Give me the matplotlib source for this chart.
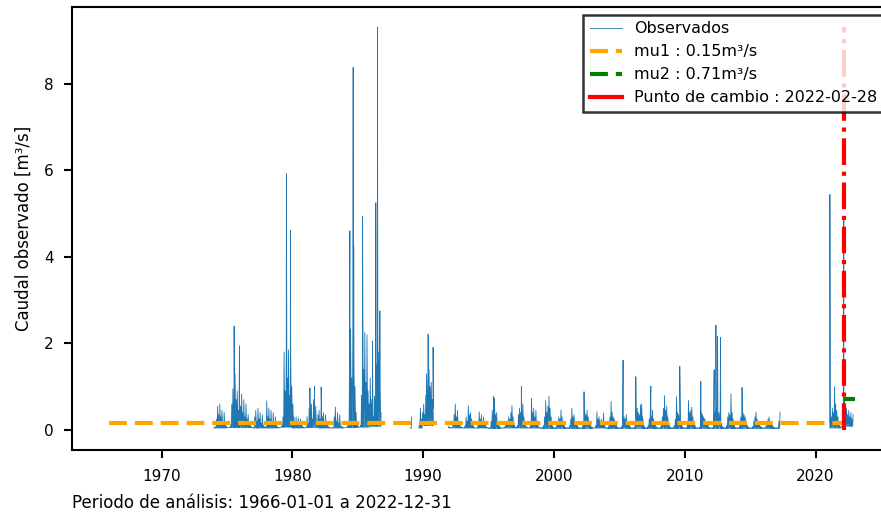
import numpy as np
import pandas as pd
import matplotlib
matplotlib.use("Agg")
import matplotlib.pyplot as plt
from matplotlib.lines import Line2D

nan = np.nan

# --- datos (m3/s) ---
# máximos mensuales aproximados por tramo; mínimos aproximados por año

# tramo 1: 1974-01 .. 1986-10
SEG1_START = "1974-01"
qmax_seg1 = [
    0.07, 0.06, 0.25, 0.55, 0.35, 0.60, 0.30, 0.45, 0.20, 0.40, 0.15, 0.08,  # 1974
    0.06, 0.05, 0.06, 0.12, 0.60, 0.95, 0.50, 1.29, 0.70, 0.90, 0.45, 0.80,  # 1975
    0.55, 0.83, 0.40, 0.70, 0.30, 0.60, 0.25, 0.35, 0.15, 0.10, 0.07, 0.06,  # 1976
    0.05, 0.30, 0.45, 0.20, 0.50, 0.25, 0.40, 0.15, 0.35, 0.10, 0.08, 0.06,  # 1977
    0.67, 0.30, 0.50, 0.25, 0.45, 0.20, 0.40, 0.15, 0.30, 0.10, 0.07, 0.05,  # 1978
    0.05, 0.06, 0.10, 0.30, 1.80, 0.90, 1.98, 1.20, 1.85, 0.80, 1.90, 1.00,  # 1979
    0.60, 0.30, 0.15, 0.30, 0.20, 0.28, 0.15, 0.25, 0.12, 0.08, 0.06, 0.05,  # 1980
    0.05, 0.30, 0.15, 0.50, 0.35, 0.60, 0.25, 0.70, 0.40, 0.55, 0.20, 0.35,  # 1981
    0.45, 0.25, 0.60, 0.30, 0.40, 0.20, 0.35, 0.15, 0.10, 0.07, 0.05, 0.05,  # 1982
    0.05, 0.06, 0.30, 0.53, 0.20, 0.40, 0.15, 0.35, 0.10, 0.08, 0.06, 0.05,  # 1983
    0.05, 0.05, 0.08, 0.15, 1.50, 2.33, 1.20, 2.20, 1.80, 1.00, 0.40, 0.15,  # 1984
    0.08, 0.06, 0.10, 0.80, 2.37, 1.40, 2.25, 1.10, 2.20, 0.90, 0.60, 1.20,  # 1985
    0.70, 0.50, 0.30, 0.78, 2.50, 1.50, 2.20, 1.80, 1.00, 0.40,              # 1986
]
qmin_seg1 = [0.04, 0.05, 0.05, 0.04, 0.04, 0.06, 0.04, 0.05, 0.04, 0.04,
             0.05, 0.06, 0.08]  # 1974..1986

# tramo 2: 1989-01 .. 1990-10
SEG2_START = "1989-01"
qmax_seg2 = [
    0.05, 0.30, nan, nan, nan, nan, nan, nan, 0.10, 0.50, 0.25, 0.40,        # 1989
    0.60, 0.35, 0.80, 1.00, 1.20, 1.40, 1.00, 1.10, 0.70, 0.50,              # 1990
]
qmin_seg2 = [0.04, 0.10]  # 1989, 1990

# tramo 3: 1991-12 .. 2017-04
SEG3_START = "1991-12"
qmax_seg3 = [
    0.08,                                                                    # 1991
    0.06, 0.05, 0.05, 0.20, 0.35, 0.60, 0.30, 0.45, 0.20, 0.15, 0.08, 0.06,  # 1992
    0.05, 0.05, 0.10, 0.30, 0.20, 0.56, 0.35, 0.40, 0.25, 0.15, 0.07, 0.05,  # 1993
    0.05, 0.05, 0.15, 0.42, 0.25, 0.35, 0.20, 0.30, 0.15, 0.10, 0.06, 0.05,  # 1994
    0.05, 0.05, 0.20, 0.45, 0.30, 0.73, 0.35, 0.40, 0.20, 0.12, 0.07, 0.05,  # 1995
    0.05, 0.05, 0.06, 0.10, 0.20, 0.15, 0.30, 0.25, 0.40, 0.56, 0.30, 0.15,  # 1996
    0.07, 0.06, 0.10, 0.35, 0.50, 0.40, 0.45, 0.60, 0.30, 0.20, 0.08, 0.06,  # 1997
    0.05, 0.05, 0.10, 0.73, 0.40, 0.50, 0.30, 0.45, 0.20, 0.10, 0.06, 0.05,  # 1998
    0.05, 0.05, 0.10, 0.30, 0.68, 0.40, 0.55, 0.78, 0.50, 0.30, 0.10, 0.06,  # 1999
    0.05, 0.05, 0.10, 0.20, 0.30, 0.25, 0.46, 0.30, 0.20, 0.10, 0.06, 0.05,  # 2000
    0.05, 0.05, 0.10, 0.25, 0.50, 0.30, 0.35, 0.20, 0.15, 0.10, 0.06, 0.05,  # 2001
    0.05, 0.05, 0.10, 0.30, 0.40, 0.35, 0.45, 0.30, 0.20, 0.10, 0.07, 0.05,  # 2002
    0.05, 0.05, 0.10, 0.42, 0.25, 0.30, 0.20, 0.25, 0.15, 0.39, 0.10, 0.06,  # 2003
    0.05, 0.05, 0.10, 0.30, 0.66, 0.40, 0.30, 0.25, 0.15, 0.10, 0.06, 0.05,  # 2004
    0.05, 0.05, 0.10, 0.20, 0.30, 0.25, 0.35, 0.20, 0.15, 0.10, 0.06, 0.05,  # 2005
    0.05, 0.05, 0.10, 0.30, 0.50, 0.40, 0.35, 0.58, 0.60, 0.30, 0.10, 0.06,  # 2006
    0.05, 0.05, 0.10, 0.25, 0.40, 0.30, 0.45, 0.25, 0.15, 0.10, 0.06, 0.05,  # 2007
    0.05, 0.05, 0.10, 0.30, 0.50, 0.79, 0.45, 0.55, 0.30, 0.15, 0.07, 0.05,  # 2008
    0.05, 0.05, 0.10, 0.25, 0.77, 0.40, 0.35, 0.30, 0.20, 0.10, 0.06, 0.05,  # 2009
    0.05, 0.05, 0.10, 0.68, 0.40, 0.45, 0.52, 0.30, 0.20, 0.10, 0.06, 0.05,  # 2010
    0.05, 0.05, 0.10, 0.40, 0.35, 0.30, 0.25, 0.20, 0.15, 0.10, 0.06, 0.05,  # 2011
    0.05, 0.05, 0.10, 0.40, 0.60, 0.50, 0.45, 0.40, 0.30, 0.15, 0.08, 0.06,  # 2012
    0.05, 0.05, 0.10, 0.30, 0.40, 0.35, 0.83, 0.40, 0.25, 0.10, 0.06, 0.05,  # 2013
    0.05, 0.05, 0.10, 0.30, 0.45, 0.40, 0.35, 0.30, 0.20, 0.10, 0.06, 0.05,  # 2014
    0.05, 0.05, 0.08, 0.20, 0.30, 0.41, 0.25, 0.20, 0.15, 0.08, 0.06, 0.05,  # 2015
    0.05, 0.05, 0.08, 0.15, 0.25, 0.30, 0.20, 0.15, 0.10, 0.07, 0.05, 0.05,  # 2016
    0.05, 0.05, 0.20, 0.41,                                                  # 2017
]
qmin_seg3 = [0.05, 0.04, 0.04, 0.04, 0.03, 0.04, 0.04, 0.04, 0.03, 0.03,
             0.03, 0.03, 0.04, 0.03, 0.03, 0.03, 0.03, 0.03, 0.03, 0.03,
             0.03, 0.03, 0.03, 0.03, 0.03, 0.03, 0.03]  # 1991..2017

# tramo 4: 2021-02 .. 2022-11
SEG4_START = "2021-02"
qmax_seg4 = [
    0.20, 0.30, 0.50, 0.40, 1.00, 0.60, 0.45, 0.30, 0.15, 0.08, 0.06,        # 2021
    0.10, 0.30, 0.68, 0.40, 0.50, 0.35, 0.45, 0.30, 0.40, 0.25, 0.35,        # 2022
]
qmin_seg4 = [0.04, 0.08]  # 2021, 2022

# crecidas (picos diarios)
peak_dates = [
    "1975-07-20", "1975-12-15", "1979-07-20", "1979-11-10", "1981-05-05",
    "1981-09-10", "1982-03-15", "1984-05-25", "1984-08-25", "1984-09-10",
    "1985-05-15", "1986-02-15", "1986-05-20", "1986-07-05", "1986-09-10",
    "1990-04-05", "1990-05-20", "1990-10-05", "1995-05-25", "1997-07-05",
    "2002-04-20", "2005-04-15", "2006-04-05", "2007-05-30", "2009-08-15",
    "2011-03-25", "2012-04-01", "2012-05-20", "2012-07-05", "2012-09-25",
    "2014-05-20", "2021-02-05", "2022-02-28",
]
peak_values = [
    2.40, 1.94, 5.92, 4.61, 0.97,
    1.01, 0.99, 4.60, 8.38, 4.24,
    4.93, 2.05, 5.25, 9.31, 2.75,
    1.29, 2.21, 1.91, 0.77, 1.00,
    0.88, 1.61, 1.23, 1.01, 1.47,
    1.12, 1.39, 2.42, 2.16, 2.14,
    0.98, 5.44, 4.93,
]

PERIOD_START = "1966-01-01"
PERIOD_END = "2022-12-31"
CHANGE_POINT = "2022-02-28"
MU1 = 0.15
MU2 = 0.71


def build_series():
    parts = []
    segs = [(SEG1_START, qmax_seg1, qmin_seg1), (SEG2_START, qmax_seg2, qmin_seg2),
            (SEG3_START, qmax_seg3, qmin_seg3), (SEG4_START, qmax_seg4, qmin_seg4)]
    for start, qmax, qmin in segs:
        months = pd.date_range(start, periods=len(qmax), freq="MS")
        first_year = months[0].year
        vals, dates = [], []
        for m, vmax in zip(months, qmax):
            vmin = qmin[m.year - first_year] if not np.isnan(vmax) else nan
            dates += [m + pd.Timedelta(days=3), m + pd.Timedelta(days=14)]
            vals += [vmin, vmax]
        s = pd.Series(vals, index=pd.DatetimeIndex(dates))
        # corte entre tramos
        s[s.index[-1] + pd.Timedelta(days=20)] = nan
        parts.append(s)
    s = pd.concat(parts)
    peaks = pd.Series(peak_values, index=pd.to_datetime(peak_dates))
    s = pd.concat([s, peaks]).sort_index()
    return s


q = build_series()
t0 = pd.Timestamp(PERIOD_START)
t1 = pd.Timestamp(PERIOD_END)
cp = pd.Timestamp(CHANGE_POINT)

fig = plt.figure(figsize=(8.81, 5.15), dpi=100)
ax = fig.add_axes([0.0817, 0.1262, 0.9308, 0.8602])

ax.plot(q.index, q.values, color="#1f77b4", lw=0.6, label="Observados")
ax.plot([t0, cp], [MU1, MU1], color="orange", lw=3, dashes=(4.3, 1.9),
        label=f"mu1 : {MU1:.2f}m³/s")
ax.plot([cp, t1], [MU2, MU2], color="green", lw=3, dashes=(4.3, 1.9),
        label=f"mu2 : {MU2:.2f}m³/s")
ax.vlines(cp, 0, np.nanmax(q.values), color="red", lw=3, linestyle="-.")

handles, labels = ax.get_legend_handles_labels()
handles.append(Line2D([], [], color="red", lw=3))
labels.append(f"Punto de cambio : {CHANGE_POINT}")
leg = ax.legend(handles, labels, loc="upper right", fontsize=11.5,
                fancybox=False, framealpha=0.8, edgecolor="black")
leg.get_frame().set_linewidth(1.8)

ax.set_ylabel("Caudal observado [m³/s]", fontsize=12, labelpad=8)
ax.tick_params(labelsize=11, width=1.5, length=6)
ax.tick_params(axis="y", pad=7)
ax.tick_params(axis="x", pad=8)
for sp in ax.spines.values():
    sp.set_linewidth(1.5)

fig.text(0.0817, 0.023, f"Periodo de análisis: {PERIOD_START} a {PERIOD_END}",
         fontsize=12, ha="left", va="center")

fig.savefig("out.png", dpi=100)
